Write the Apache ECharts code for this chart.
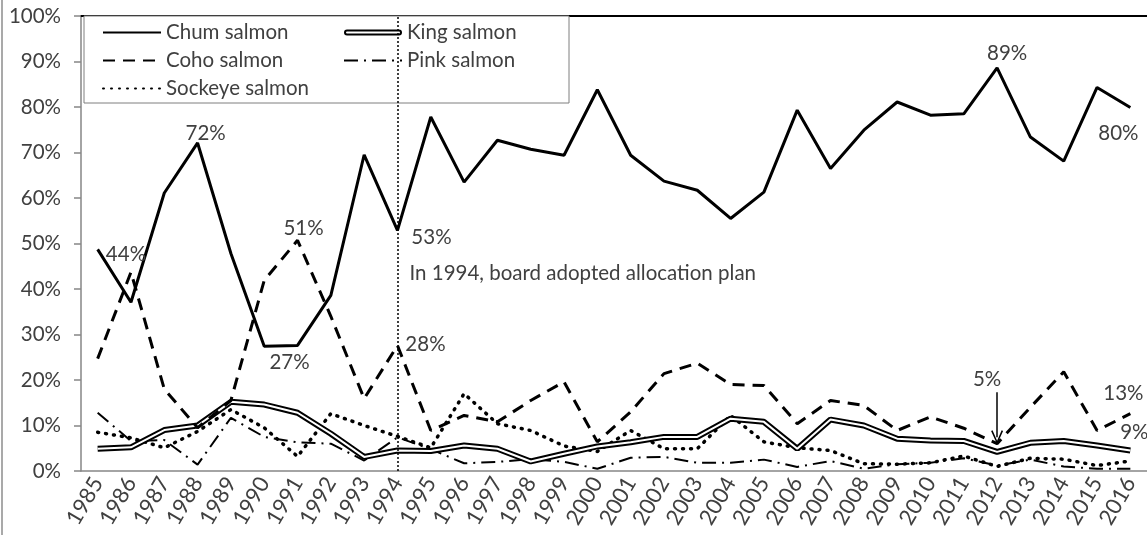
<!DOCTYPE html>
<html>
<head>
<meta charset="utf-8">
<script src="https://cdn.jsdelivr.net/npm/echarts@6/dist/echarts.min.js"></script>
<style>
  html, body { margin: 0; padding: 0; background: #fff; }
  #chart { width: 1147px; height: 535px; }
</style>
</head>
<body>
<div id="chart"></div>
<script>
  // share of the harvest by species, percent
  const years = ['1985', '1986', '1987', '1988', '1989', '1990', '1991', '1992', '1993', '1994', '1995',
    '1996', '1997', '1998', '1999', '2000', '2001', '2002', '2003', '2004', '2005', '2006', '2007',
    '2008', '2009', '2010', '2011', '2012', '2013', '2014', '2015', '2016']
  const chum = [48.7, 37.1, 61.1, 72.1, 47.8, 27.4, 27.6, 38.6, 69.5, 52.9, 77.8, 63.5, 72.7, 70.7, 69.4, 83.8,
    69.4, 63.7, 61.7, 55.5, 61.3, 79.3, 66.5, 74.9, 81.1, 78.2, 78.5, 88.6, 73.4, 68.1, 84.3, 79.9]
  const king = [4.9, 5.2, 9.0, 10.0, 15.2, 14.6, 12.8, 8.2, 3.1, 4.5, 4.4, 5.6, 4.9, 2.1, 3.8, 5.4,
    6.3, 7.5, 7.5, 11.5, 10.8, 4.9, 11.3, 10.0, 7.1, 6.7, 6.6, 4.2, 6.2, 6.6, 5.6, 4.5]
  const coho = [24.7, 43.7, 18.0, 9.5, 15.5, 41.9, 50.7, 34.0, 15.9, 27.6, 8.9, 12.2, 10.8, 15.5, 19.6, 6.4,
    13.0, 21.4, 23.7, 19.0, 18.8, 10.4, 15.5, 14.4, 8.9, 11.9, 9.4, 6.0, 14.0, 21.8, 8.9, 12.6]
  const pink = [12.8, 6.6, 6.8, 1.4, 11.7, 7.5, 6.3, 6.0, 2.3, 7.4, 4.8, 1.7, 2.0, 2.6, 2.0, 0.5,
    2.9, 3.1, 1.8, 1.8, 2.5, 0.9, 2.2, 0.5, 1.5, 1.8, 2.8, 1.2, 2.5, 1.0, 0.5, 0.5]
  const sockeye = [8.5, 7.3, 5.1, 8.7, 13.5, 9.5, 3.2, 12.6, 10.0, 7.6, 5.1, 17.0, 10.4, 8.9, 5.5, 4.3,
    8.9, 4.9, 4.9, 12.2, 6.4, 5.1, 4.5, 1.6, 1.5, 1.8, 3.3, 1.0, 2.8, 2.6, 1.2, 2.2]
  const yTicks = { min: 0, max: 100, step: 10 }

  const font = 'Lato'
  const fontSize = 20.5
  const ink = '#404040'
  const bySpecies = { chum: chum, coho: coho, king: king }

  // text notes hung on a data point, shifted in pixels
  const notes = [
    { text: '72%', s: 'chum', year: '1988', offset: [8, -10] },
    { text: '44%', s: 'coho', year: '1986', offset: [-5, -18] },
    { text: '51%', s: 'coho', year: '1991', offset: [6, -12] },
    { text: '27%', s: 'chum', year: '1991', offset: [-8, 17] },
    { text: '53%', s: 'chum', year: '1994', offset: [34, 7] },
    { text: '28%', s: 'coho', year: '1994', offset: [28, -1] },
    { text: 'In 1994, board adopted allocation plan', s: 'chum', year: '1994', offset: [12, 43], align: 'left' },
    { text: '89%', s: 'chum', year: '2012', offset: [10, -14] },
    { text: '80%', s: 'chum', year: '2016', offset: [-12, 26] },
    { text: '5%', s: 'coho', year: '2012', offset: [-10, -64] },
    { text: '13%', s: 'coho', year: '2016', offset: [-7, -20] },
    { text: '9%', s: 'king', year: '2016', offset: [4, -18] }
  ]
  const arrowYear = '2012'
  const arrowFrom = 17.3
  const arrowTo = 7.4

  const kingIcon = 'image://data:image/svg+xml;charset=utf-8,' + encodeURIComponent(
    '<svg xmlns="http://www.w3.org/2000/svg" width="58" height="14">' +
    '<line x1="3" y1="7" x2="55" y2="7" stroke="#000" stroke-width="6" stroke-linecap="round"/>' +
    '<line x1="3" y1="7" x2="55" y2="7" stroke="#fff" stroke-width="2" stroke-linecap="round"/></svg>')
  const arrowHead = 'path://M5,0 L10,11 L8.8,11.5 L5,3 L1.2,11.5 L0,11 Z'

  let myChart = echarts.init(document.getElementById('chart'))
  let option = {
    animation: false,
    textStyle: { fontFamily: font },
    grid: { left: 81, right: -2, top: 16, bottom: 64 },
    legend: {
      orient: 'vertical',
      left: 84,
      top: 16,
      height: 80,
      padding: [5, 12, 3, 18],
      itemGap: 5,
      itemWidth: 58,
      itemHeight: 14,
      backgroundColor: '#fff',
      borderColor: '#7f7f7f',
      borderWidth: 1,
      borderRadius: 0,
      itemStyle: { opacity: 0 },
      textStyle: { fontSize: fontSize, lineHeight: 23, color: ink, fontFamily: font, width: 172, overflow: 'none' },
      data: [
        'Chum salmon',
        'Coho salmon',
        'Sockeye salmon',
        { name: 'King salmon', icon: kingIcon, itemStyle: { opacity: 1 }, textStyle: { width: 150 } },
        { name: 'Pink salmon', textStyle: { width: 150 } }
      ]
    },
    graphic: [
      { type: 'line', shape: { x1: 2, y1: 0, x2: 2, y2: 535 }, style: { stroke: '#8c8c8c', lineWidth: 1.5 } }
    ],
    xAxis: [
      {
        type: 'category',
        data: years,
        axisLine: { lineStyle: { color: '#868686', width: 1.5 } },
        axisTick: { length: 6, lineStyle: { color: '#868686', width: 1.5 } },
        axisLabel: { rotate: 60, interval: 0, fontSize: 22, color: ink, margin: 8, fontFamily: font }
      },
      {
        type: 'category',
        data: years,
        position: 'top',
        axisLine: { lineStyle: { color: '#000', width: 2 } },
        axisTick: { show: false },
        axisLabel: { show: false }
      }
    ],
    yAxis: {
      type: 'value',
      min: yTicks.min,
      max: yTicks.max,
      interval: yTicks.step,
      axisLine: { show: true, lineStyle: { color: '#868686', width: 1.5 } },
      axisTick: { show: true, length: 7, lineStyle: { color: '#868686', width: 1.5 } },
      splitLine: { show: false },
      axisLabel: { formatter: '{value}%', fontSize: fontSize, color: ink, margin: 20, fontFamily: font }
    },
    series: [
      {
        name: 'Pink salmon',
        type: 'line',
        data: pink,
        symbol: 'none',
        silent: true,
        lineStyle: { color: '#000', width: 2, type: [14, 6, 2, 6] }
      },
      {
        name: 'Sockeye salmon',
        type: 'line',
        data: sockeye,
        symbol: 'none',
        silent: true,
        lineStyle: { color: '#000', width: 3.5, type: [1, 7], cap: 'round' }
      },
      {
        name: 'King salmon',
        type: 'line',
        data: king,
        symbol: 'none',
        silent: true,
        lineStyle: { color: '#000', width: 6 }
      },
      {
        name: 'king-core',
        type: 'line',
        data: king,
        symbol: 'none',
        silent: true,
        lineStyle: { color: '#fff', width: 2 }
      },
      {
        name: 'Coho salmon',
        type: 'line',
        data: coho,
        symbol: 'none',
        silent: true,
        lineStyle: { color: '#000', width: 3, type: [12, 8] }
      },
      {
        name: 'Chum salmon',
        type: 'line',
        data: chum,
        symbol: 'none',
        silent: true,
        lineStyle: { color: '#000', width: 3 },
        markLine: {
          silent: true,
          symbol: ['none', 'none'],
          label: { show: false },
          data: [
            { xAxis: '1994', lineStyle: { color: '#000', width: 1.5, type: [2, 2] } },
            [
              { coord: [arrowYear, arrowFrom], symbol: 'none', lineStyle: { color: '#000', width: 1.5, type: 'solid' } },
              { coord: [arrowYear, arrowTo], symbol: arrowHead, symbolSize: [12, 14] }
            ]
          ]
        },
        markPoint: {
          silent: true,
          symbol: 'circle',
          symbolSize: 0,
          label: { show: true, position: 'inside', fontSize: fontSize, color: ink, fontFamily: font },
          data: notes.map(function (n) {
            let v = bySpecies[n.s][years.indexOf(n.year)]
            return {
              coord: [n.year, v],
              label: { formatter: n.text, offset: n.offset, align: n.align || 'center' }
            }
          })
        }
      }
    ]
  }
  myChart.setOption(option)
</script>
</body>
</html>
